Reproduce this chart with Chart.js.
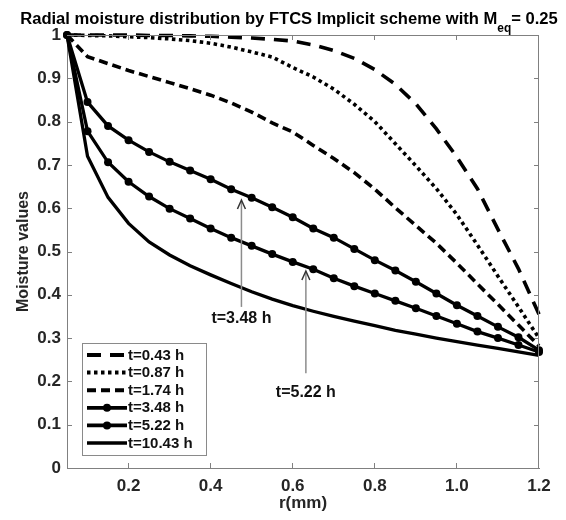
<!DOCTYPE html>
<html><head><meta charset="utf-8">
<script src="https://cdn.jsdelivr.net/npm/chart.js@4/dist/chart.umd.min.js"></script>
<style>html,body{margin:0;padding:0;background:#fff}#wrap{width:566px;height:520px;position:relative}</style>
</head><body><div id="wrap"><canvas id="c" width="566" height="520"></canvas></div>
<script>
// ---------- data ----------
const r = [0.05,0.10,0.15,0.20,0.25,0.30,0.35,0.40,0.45,0.50,0.55,0.60,0.65,0.70,0.75,0.80,0.85,0.90,0.95,1.00,1.05,1.10,1.15,1.20];
const t043 = [1.000,1.000,1.000,1.000,0.999,0.999,0.998,0.997,0.995,0.993,0.990,0.986,0.977,0.964,0.946,0.920,0.886,0.841,0.783,0.718,0.645,0.551,0.460,0.355];
const t087 = [1.000,0.999,0.998,0.996,0.994,0.991,0.987,0.981,0.972,0.961,0.949,0.925,0.903,0.875,0.840,0.800,0.749,0.698,0.645,0.585,0.515,0.443,0.372,0.300];
const t174 = [1.000,0.950,0.934,0.918,0.904,0.890,0.876,0.861,0.843,0.822,0.797,0.776,0.745,0.715,0.682,0.644,0.601,0.560,0.519,0.473,0.425,0.378,0.330,0.282];
const t348 = [1.000,0.845,0.790,0.757,0.730,0.707,0.687,0.667,0.644,0.624,0.602,0.579,0.553,0.532,0.506,0.480,0.456,0.430,0.403,0.376,0.351,0.326,0.302,0.272];
const t522 = [1.000,0.778,0.706,0.661,0.627,0.599,0.576,0.553,0.532,0.513,0.494,0.476,0.459,0.438,0.420,0.403,0.386,0.369,0.351,0.333,0.315,0.300,0.284,0.268];
const t1043 = [1.000,0.720,0.625,0.565,0.522,0.492,0.467,0.446,0.426,0.407,0.390,0.375,0.362,0.350,0.339,0.329,0.318,0.309,0.300,0.292,0.284,0.276,0.268,0.260];
const seriesLabels = ['t=0.43 h','t=0.87 h','t=1.74 h','t=3.48 h','t=5.22 h','t=10.43 h'];
const xTicks = [0.2,0.4,0.6,0.8,1.0,1.2];
const yTicks = [0,0.1,0.2,0.3,0.4,0.5,0.6,0.7,0.8,0.9,1];
const titleMain = 'Radial moisture distribution by FTCS Implicit scheme with M';
const titleSub = 'eq';
const titleEnd = '= 0.25';
const xTitle = 'r(mm)';
const yTitle = 'Moisture values';
// arrow annotations
const arrowLabels = ['t=3.48 h','t=5.22 h'];
const arrowR = [0.475, 0.632];
const arrowTip = [0.619, 0.455];
const arrowBase = [0.372, 0.219];
const arrowTextY = [0.345, 0.173];

// ---------- styling ----------
const FONT = '"Liberation Sans", Arial, Helvetica, sans-serif';
const styles = [
  {dash:[14,9], w:3.6, pr:0},
  {dash:[3.5,3.5], w:3.6, pr:0},
  {dash:[9,5], w:3.6, pr:0},
  {dash:[], w:3.3, pr:4},
  {dash:[], w:3.3, pr:4},
  {dash:[], w:3.3, pr:0}
];
const allSeries = [t043,t087,t174,t348,t522,t1043];
const datasets = allSeries.map((s,i)=>({
  label: seriesLabels[i],
  data: s.map((v,k)=>({x:r[k], y:v})),
  borderColor:'#000', backgroundColor:'#000',
  borderWidth: styles[i].w, borderDash: styles[i].dash,
  pointRadius: styles[i].pr, pointHoverRadius: 0, pointBorderWidth:0,
  pointBackgroundColor:'#000', tension:0, clip:false, fill:false
}));

const decor = {
  id:'decor',
  afterDatasetsDraw(chart){
    const {ctx, chartArea:a, scales:{x,y}} = chart;
    ctx.save();
    // box + inside ticks
    ctx.strokeStyle = '#808080'; ctx.lineWidth = 1;
    ctx.beginPath();
    ctx.moveTo(a.left, a.top+0.5); ctx.lineTo(a.right, a.top+0.5);
    ctx.moveTo(a.right-0.5, a.top); ctx.lineTo(a.right-0.5, a.bottom);
    xTicks.forEach(v=>{const px=Math.round(x.getPixelForValue(v))-0.5;
      ctx.moveTo(px,a.bottom); ctx.lineTo(px,a.bottom-5);
      ctx.moveTo(px,a.top); ctx.lineTo(px,a.top+5);});
    yTicks.forEach(v=>{const py=Math.round(y.getPixelForValue(v))+0.5;
      ctx.moveTo(a.left,py); ctx.lineTo(a.left+5,py);
      ctx.moveTo(a.right,py); ctx.lineTo(a.right-5,py);});
    ctx.stroke();

    // arrows
    arrowLabels.forEach((lab,i)=>{
      const px = x.getPixelForValue(arrowR[i]);
      const tip = y.getPixelForValue(arrowTip[i]);
      const base = y.getPixelForValue(arrowBase[i]);
      ctx.strokeStyle='#8c8c8c'; ctx.lineWidth=1.5; ctx.setLineDash([]);
      ctx.beginPath(); ctx.moveTo(px,base); ctx.lineTo(px,tip+2); ctx.stroke();
      ctx.strokeStyle='#333'; ctx.lineWidth=1.5;
      ctx.beginPath(); ctx.moveTo(px-4,tip+9); ctx.lineTo(px,tip); ctx.lineTo(px+4,tip+9); ctx.stroke();
      ctx.fillStyle='#111'; ctx.font='bold 16px '+FONT; ctx.textAlign='center'; ctx.textBaseline='middle';
      ctx.fillText(lab, px, y.getPixelForValue(arrowTextY[i]));
    });

    // legend
    const lx=82, ly=343, lw=124, lh=112;
    ctx.fillStyle='#fff'; ctx.fillRect(lx,ly,lw,lh);
    ctx.strokeStyle='#8a8a8a'; ctx.lineWidth=1; ctx.strokeRect(lx+0.5,ly+0.5,lw,lh);
    seriesLabels.forEach((lab,i)=>{
      const yy = ly + 12 + i*17.6;
      ctx.strokeStyle='#000'; ctx.lineWidth=styles[i].w+0.4; ctx.setLineDash(styles[i].dash);
      ctx.beginPath(); ctx.moveTo(87,yy); ctx.lineTo(127,yy); ctx.stroke();
      ctx.setLineDash([]);
      if(styles[i].pr){ctx.fillStyle='#000'; ctx.beginPath(); ctx.arc(107,yy,styles[i].pr,0,Math.PI*2); ctx.fill();}
      ctx.fillStyle='#111'; ctx.font='bold 15px '+FONT; ctx.textAlign='left'; ctx.textBaseline='middle';
      ctx.fillText(lab,128,yy+0.5);
    });

    // title with subscript
    let fs = 15;
    const measure = (f)=>{
      ctx.font='bold '+f+'px '+FONT; const w1=ctx.measureText(titleMain).width;
      ctx.font='bold '+(f*0.72)+'px '+FONT; const w2=ctx.measureText(titleSub).width;
      ctx.font='bold '+f+'px '+FONT; const w3=ctx.measureText(titleEnd).width;
      return [w1,w2,w3];
    };
    let ws = measure(fs); let tot = ws[0]+ws[1]+ws[2];
    fs = fs*538/tot; ws = measure(fs); tot = ws[0]+ws[1]+ws[2];
    let tx = 289 - tot/2; const ty = 19;
    ctx.fillStyle='#000'; ctx.textAlign='left'; ctx.textBaseline='middle';
    ctx.font='bold '+fs+'px '+FONT; ctx.fillText(titleMain, tx, ty);
    ctx.font='bold '+(fs*0.72)+'px '+FONT; ctx.fillText(titleSub, tx+ws[0], ty+10);
    ctx.font='bold '+fs+'px '+FONT; ctx.fillText(titleEnd, tx+ws[0]+ws[1], ty);
    ctx.restore();
  }
};

new Chart(document.getElementById('c'), {
  type:'line',
  data:{datasets},
  plugins:[decor],
  options:{
    responsive:false, animation:false, devicePixelRatio:1,
    layout:{padding:{top:35,right:27,left:0,bottom:0}},
    plugins:{legend:{display:false}, tooltip:{enabled:false}, title:{display:false}},
    scales:{
      x:{type:'linear', min:0.05, max:1.2,
        afterBuildTicks:s=>{s.ticks = xTicks.map(v=>({value:v}));},
        afterFit:s=>{s.height=52;},
        ticks:{callback:v=>Number(v).toFixed(1), color:'#262626', font:{family:FONT,size:17,weight:'bold'}, padding:8, maxRotation:0, autoSkip:false},
        grid:{display:true, drawOnChartArea:false, drawTicks:false},
        border:{display:true, color:'#808080', width:1},
        title:{display:true, text:xTitle, color:'#262626', font:{family:FONT,size:17,weight:'bold'}, padding:{top:0,bottom:6}}
      },
      y:{type:'linear', min:0, max:1,
        afterBuildTicks:s=>{s.ticks = yTicks.map(v=>({value:v}));},
        afterFit:s=>{s.width=67;},
        ticks:{callback:v=>(v===0?'0':v===1?'1':Number(v).toFixed(1)), color:'#262626', font:{family:FONT,size:17,weight:'bold'}, padding:6, autoSkip:false},
        grid:{display:true, drawOnChartArea:false, drawTicks:false},
        border:{display:true, color:'#808080', width:1},
        title:{display:true, text:yTitle, color:'#262626', font:{family:FONT,size:16,weight:'bold'}, padding:{top:14,bottom:0}}
      }
    }
  }
});
</script></body></html>
